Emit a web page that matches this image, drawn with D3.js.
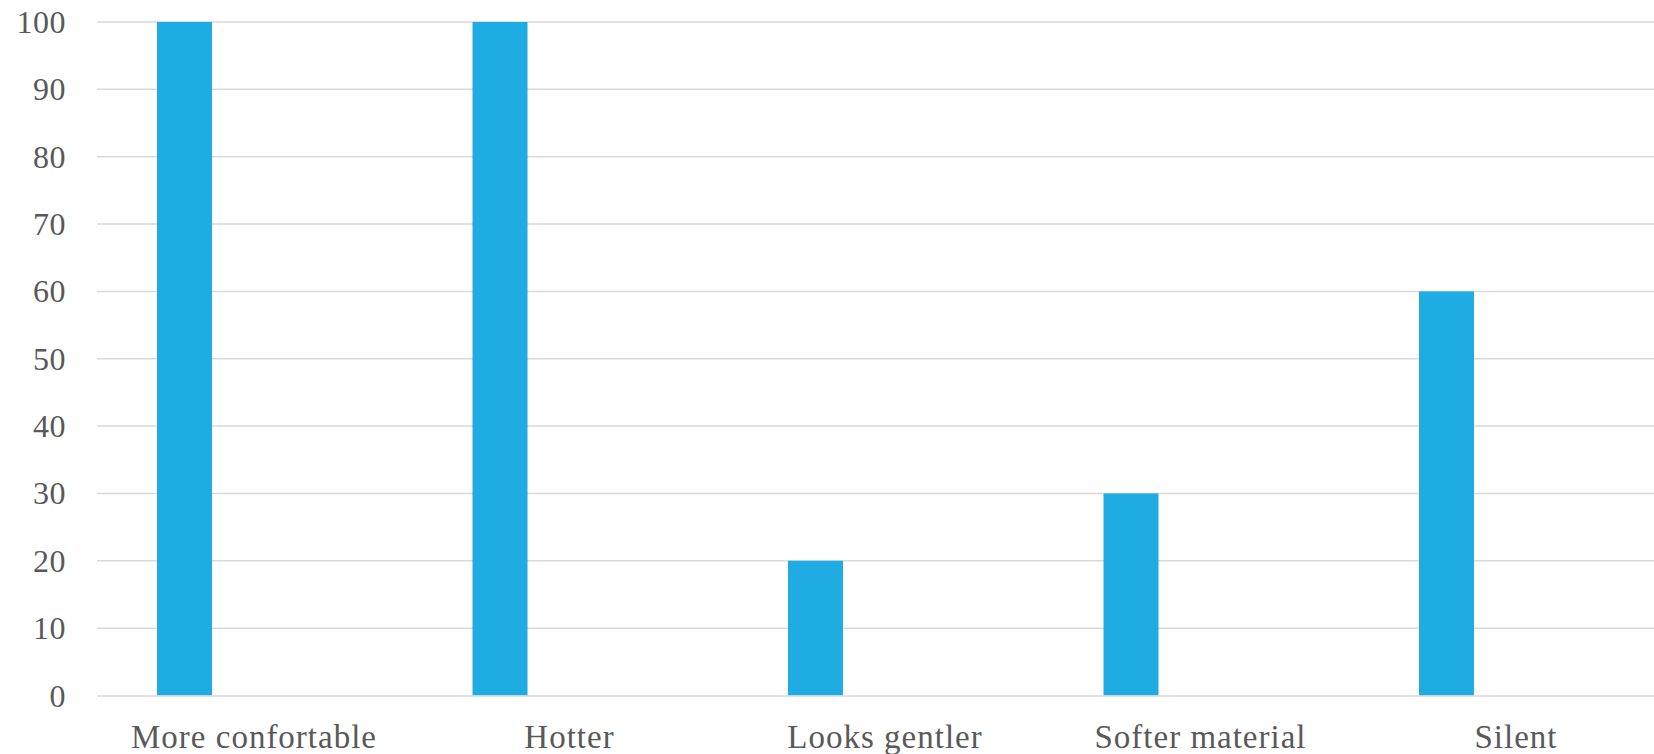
<!DOCTYPE html>
<html><head><meta charset="utf-8">
<script src="https://cdn.jsdelivr.net/npm/d3@7"></script>
<style>html,body{margin:0;padding:0;background:#fff;overflow:hidden}</style>
</head><body><div id="chart"></div>
<script>
const categories = ["More confortable", "Hotter", "Looks gentler", "Softer material", "Silent"];
const values = [100, 100, 20, 30, 60];
const yTicks = [0, 10, 20, 30, 40, 50, 60, 70, 80, 90, 100];

const W = 1654, H = 754;
const svg = d3.select("#chart").append("svg").attr("width", W).attr("height", H);
const x = d3.scaleBand().domain(categories).range([96.25, 1673.75]).padding(0);
const y = d3.scaleLinear().domain([0, 100]).range([695.5, 22]);
const font = "'Liberation Serif', 'DejaVu Serif', serif";

svg.append("g").selectAll("line").data(yTicks.filter(d => d > 0)).join("line")
  .attr("x1", 97).attr("x2", W).attr("y1", d => y(d)).attr("y2", d => y(d))
  .attr("stroke", "#d9d9d9").attr("stroke-width", 1.5);

svg.append("g").selectAll("text").data(yTicks).join("text")
  .attr("x", 66).attr("y", d => y(d) + 11).attr("text-anchor", "end")
  .attr("font-family", font).attr("font-size", 32).attr("letter-spacing", "0.5px").attr("fill", "#595959")
  .text(d => d);

const bw = x.bandwidth();
svg.append("g").selectAll("rect").data(values).join("rect")
  .attr("x", (d, i) => x(categories[i]) + bw * 0.1926)
  .attr("width", bw * 0.1743)
  .attr("y", d => y(d))
  .attr("height", d => y(0) - y(d))
  .attr("fill", "#1EACE3");

svg.append("line").attr("x1", 97).attr("x2", W).attr("y1", y(0) + 0.5).attr("y2", y(0) + 0.5)
  .attr("stroke", "#d9d9d9").attr("stroke-width", 1.5);

svg.append("g").selectAll("text").data(categories).join("text")
  .attr("x", d => x(d) + bw / 2).attr("y", 748).attr("text-anchor", "middle")
  .attr("font-family", font).attr("font-size", 33).attr("letter-spacing", "1px").attr("fill", "#595959")
  .text(d => d);
</script></body></html>
